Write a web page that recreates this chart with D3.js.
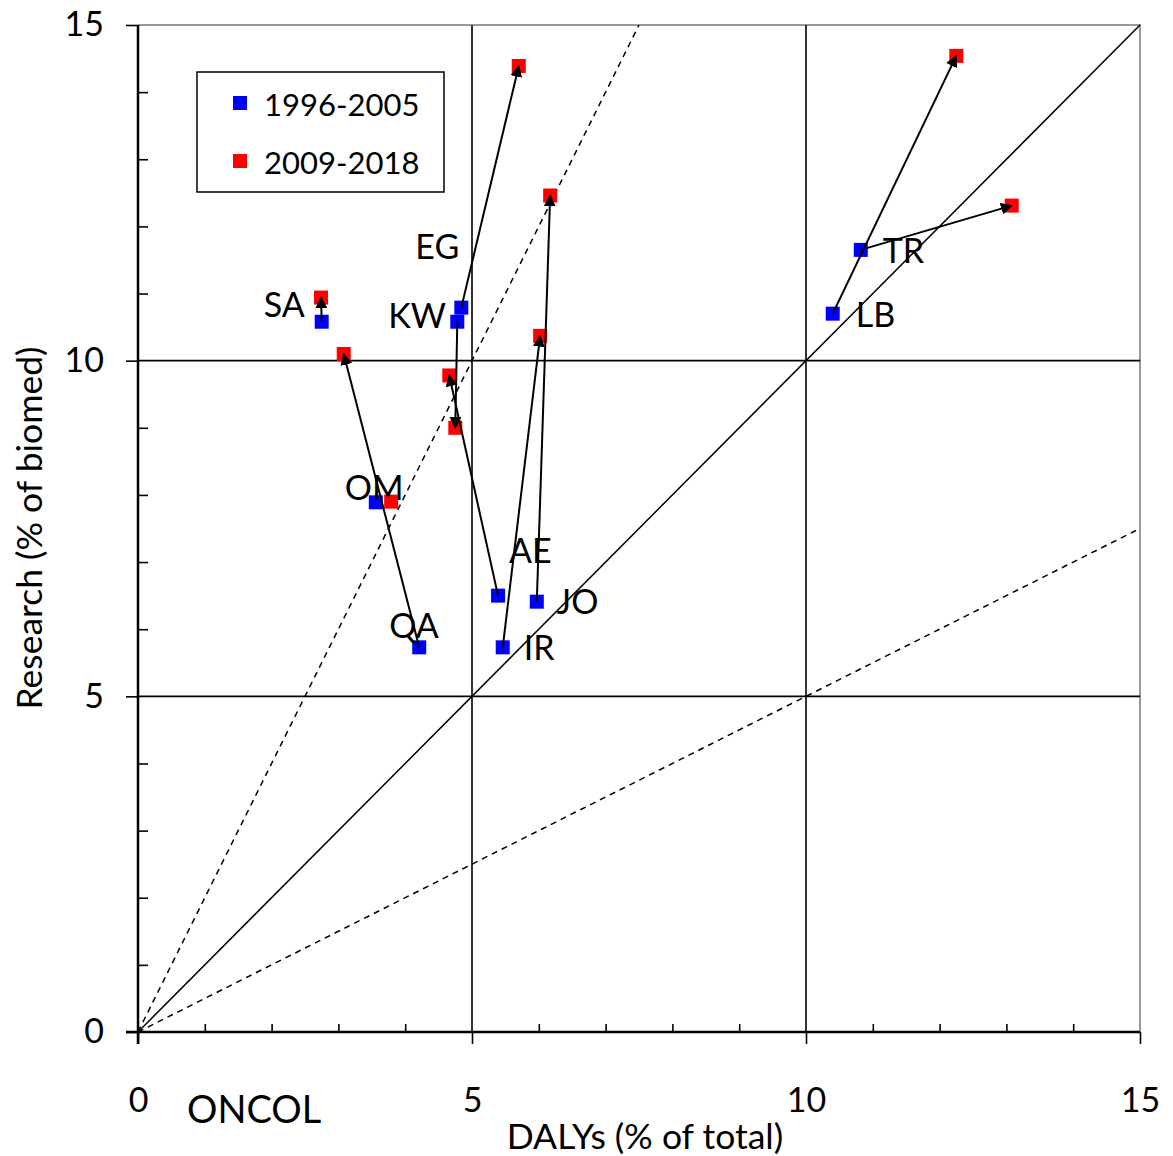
<!DOCTYPE html>
<html><head><meta charset="utf-8">
<script src="https://cdn.jsdelivr.net/npm/d3@7"></script>
<style>body{margin:0;background:#fff}svg{display:block}text{font-family:"Gill Sans","Lato","Open Sans",sans-serif;fill:#000}</style>
</head><body>
<svg id="chart" width="1173" height="1156"></svg>
<script>
const countries = ["SA","KW","EG","AE","QA","OM","IR","JO","LB","TR"];
const dalys1996 = [2.75,4.78,4.84,5.39,4.21,3.56,5.46,5.97,10.40,10.82];
const research1996 = [10.58,10.58,10.79,6.50,5.73,7.89,5.73,6.41,10.70,11.65];
const dalys2009 = [2.74,4.75,5.70,4.66,3.08,3.79,6.02,6.17,12.25,13.08];
const research2009 = [10.94,9.00,14.39,9.78,10.10,7.90,10.37,12.46,14.54,12.31];
const labelDx = [-58,-69,-46,11,-30,-31,21,20,23,22];
const labelDy = [-5,6,-49,-33,-9,-2,13,12,13,13];
const seriesNames = ["1996-2005","2009-2018"];
const seriesColors = ["#0000ff","#ff0000"];
const majorTicks = [0,5,10,15];
const minorTicks = [1,2,3,4,6,7,8,9,11,12,13,14];
const refSlopes = [1,2,0.5];

const svg = d3.select("#chart");
const x = d3.scaleLinear().domain([0,15]).range([138,1140]);
const y = d3.scaleLinear().domain([0,15]).range([1032,25]);

// frame (top and right, grey)
svg.append("path").attr("d",`M${x(0)},${y(15)}H${x(15)}V${y(0)}`).attr("fill","none").attr("stroke","#9a9a9a").attr("stroke-width",2);

// grid lines
const g = svg.append("g");
[5,10].forEach(v=>{
  g.append("line").attr("x1",x(v)).attr("x2",x(v)).attr("y1",y(0)).attr("y2",y(15)).attr("stroke","#000").attr("stroke-width",1.6);
  g.append("line").attr("x1",x(0)).attr("x2",x(15)).attr("y1",y(v)).attr("y2",y(v)).attr("stroke","#000").attr("stroke-width",1.6);
});

// reference lines
refSlopes.forEach(s=>{
  const xe = Math.min(15, 15/s), ye = xe*s;
  g.append("line").attr("x1",x(0)).attr("y1",y(0)).attr("x2",x(xe)).attr("y2",y(ye))
    .attr("stroke","#000").attr("stroke-width",1.5)
    .attr("stroke-dasharray", s===1 ? null : "6,5");
});

// axes
const fs = 34;
const xAxis = svg.append("g").attr("transform",`translate(0,${y(0)})`)
  .call(d3.axisBottom(x).tickValues(majorTicks).tickSize(12).tickPadding(44).tickFormat(d3.format("d")));
const xMinor = svg.append("g").attr("transform",`translate(0,${y(0)})`)
  .call(d3.axisTop(x).tickValues(minorTicks).tickSize(8).tickFormat(""));
const yAxis = svg.append("g").attr("transform",`translate(${x(0)},0)`)
  .call(d3.axisLeft(y).tickValues(majorTicks).tickSize(12).tickPadding(22).tickFormat(d3.format("d")));
const yMinor = svg.append("g").attr("transform",`translate(${x(0)},0)`)
  .call(d3.axisRight(y).tickValues(minorTicks).tickSize(10).tickFormat(""));
[xAxis,yAxis,xMinor,yMinor].forEach(a=>{
  a.selectAll("line").attr("stroke","#000").attr("stroke-width",1.6);
  a.selectAll("text").attr("font-size",fs).attr("font-family",null);
});
xMinor.select(".domain").remove(); yMinor.select(".domain").remove();
xAxis.select(".domain").attr("d",`M${x(0)-12},0H${x(15)}`).attr("stroke","#000").attr("stroke-width",2.5);
yAxis.select(".domain").attr("d",`M0,${y(0)+12}V${y(15)}`).attr("stroke","#000").attr("stroke-width",2.5);

// titles
svg.append("text").attr("x",645).attr("y",1149).attr("text-anchor","middle").attr("font-size",35.5).text("DALYs (% of total)");
svg.append("text").attr("x",187).attr("y",1123).attr("font-size",38).text("ONCOL");
svg.append("text").attr("transform","translate(42,528) rotate(-90)").attr("text-anchor","middle").attr("font-size",35.5).text("Research (% of biomed)");

// markers
const ms = 14;
const pts = [dalys1996.map((d,i)=>[d,research1996[i]]), dalys2009.map((d,i)=>[d,research2009[i]])];
pts.forEach((arr,si)=>{
  svg.append("g").selectAll("rect").data(arr).join("rect")
    .attr("x",d=>x(d[0])-ms/2).attr("y",d=>y(d[1])-ms/2).attr("width",ms).attr("height",ms)
    .attr("fill",seriesColors[si]);
});

// arrows (very short moves are hidden under the markers)
const defs = svg.append("defs");
defs.append("marker").attr("id","ah").attr("viewBox","0 0 10 10").attr("refX",9).attr("refY",5)
  .attr("markerWidth",12).attr("markerHeight",12).attr("markerUnits","userSpaceOnUse").attr("orient","auto")
  .append("path").attr("d","M0,0L10,5L0,10Z").attr("fill","#000");
const arrowIdx = countries.map((c,i)=>i).filter(i=>Math.hypot(x(dalys2009[i])-x(dalys1996[i]), y(research2009[i])-y(research1996[i]))>20);
svg.append("g").selectAll("line").data(arrowIdx).join("line")
  .attr("x1",i=>x(dalys1996[i])).attr("y1",i=>y(research1996[i]))
  .attr("x2",i=>x(dalys2009[i])).attr("y2",i=>y(research2009[i]))
  .attr("stroke","#000").attr("stroke-width",2).attr("marker-end","url(#ah)");

// country labels
svg.append("g").selectAll("text").data(countries.map((c,i)=>i)).join("text")
  .attr("x",i=>x(dalys1996[i])+labelDx[i]).attr("y",i=>y(research1996[i])+labelDy[i])
  .attr("font-size",34).text(i=>countries[i]);

// legend
svg.append("rect").attr("x",197).attr("y",72).attr("width",247).attr("height",120).attr("fill","#fff").attr("stroke","#000").attr("stroke-width",1.5);
seriesNames.forEach((n,i)=>{
  svg.append("rect").attr("x",233).attr("y",96+i*58).attr("width",14).attr("height",14).attr("fill",seriesColors[i]);
  svg.append("text").attr("x",264).attr("y",116+i*58).attr("font-size",31).text(n);
});
</script>
</body></html>
